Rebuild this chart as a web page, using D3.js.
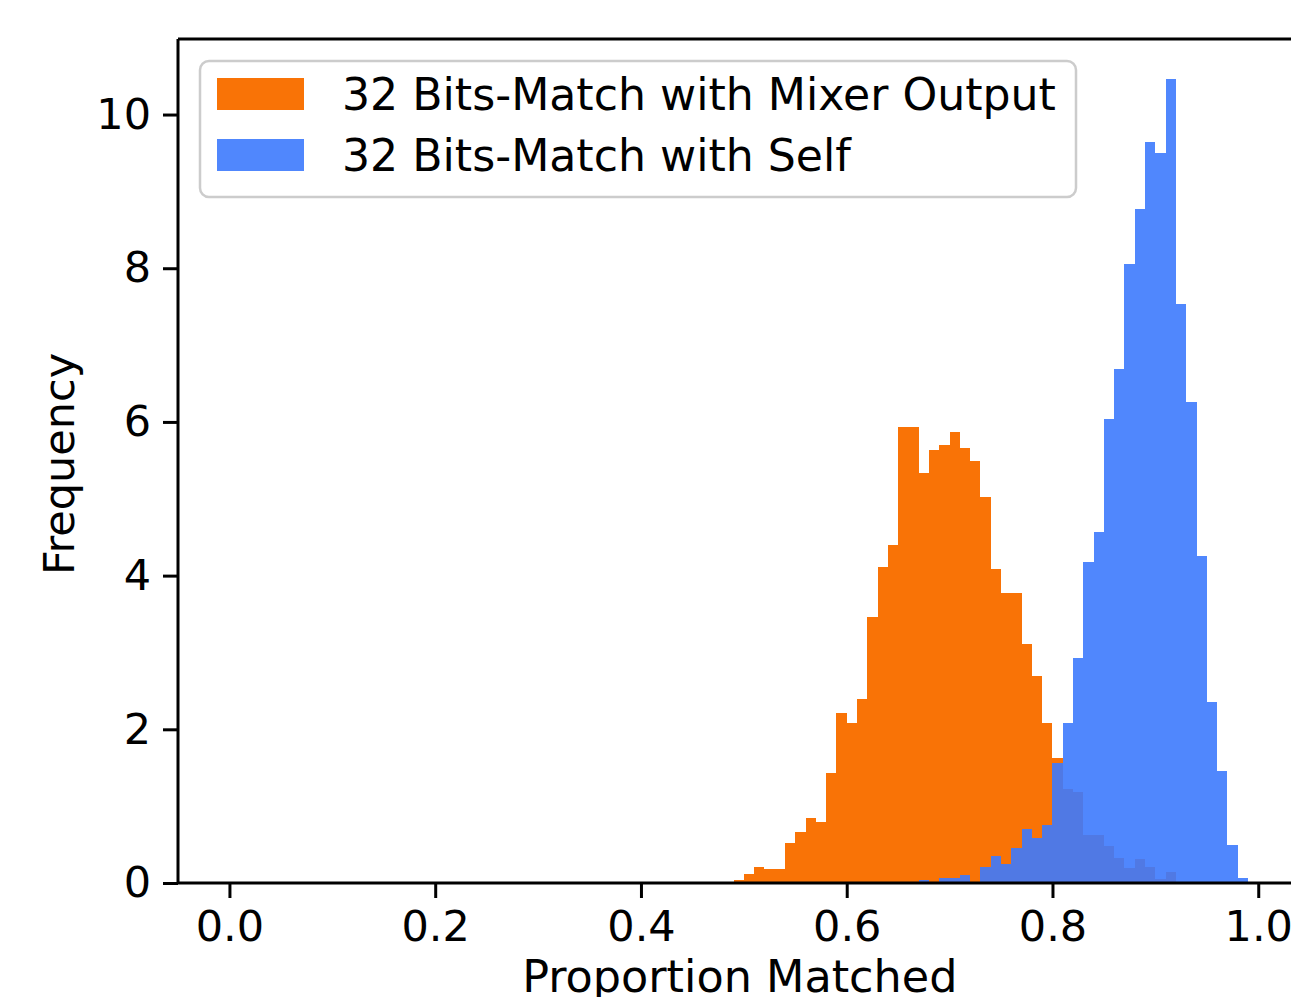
<!DOCTYPE html>
<html>
<head>
<meta charset="utf-8">
<script src="https://cdn.jsdelivr.net/npm/d3@7"></script>
<style>
  html, body { margin: 0; padding: 0; background: #ffffff; overflow: hidden; }
  svg { display: block; }
  text { font-family: "DejaVu Sans", sans-serif; fill: #000; }
</style>
</head>
<body>
<svg id="chart" width="1291" height="997"></svg>
<script>
// Histogram bins are 0.01 wide on [0, 1]; each series lists densities from its first non-empty bin.
const binWidth = 0.01;

const mixerLabel = "32 Bits-Match with Mixer Output";
const mixerStart = 0.49;
const mixerFreq = [
  0.04, 0.12, 0.21, 0.18, 0.18, 0.52, 0.66, 0.84, 0.80, 1.43,
  2.21, 2.08, 2.39, 3.46, 4.11, 4.40, 5.94, 5.94, 5.33, 5.63,
  5.70, 5.87, 5.66, 5.49, 5.02, 4.08, 3.77, 3.77, 3.11, 2.70,
  2.08, 1.63, 1.22, 1.19, 0.63, 0.63, 0.48, 0.32, 0.19, 0.31,
  0.21, 0.05, 0.14
];

const selfLabel = "32 Bits-Match with Self";
const selfStart = 0.67;
const selfFreq = [
  0.04, 0.00, 0.07, 0.07, 0.10, 0.00, 0.21, 0.35, 0.25, 0.45,
  0.70, 0.59, 0.76, 1.56, 2.08, 2.93, 4.18, 4.57, 6.04, 6.69,
  8.05, 8.77, 9.64, 9.50, 10.46, 7.53, 6.26, 4.25, 2.35, 1.46,
  0.49, 0.07
];

const xTicks = [0.0, 0.2, 0.4, 0.6, 0.8, 1.0];
const yTicks = [0, 2, 4, 6, 8, 10];
const xTitle = "Proportion Matched";
const yTitle = "Frequency";

const colors = { mixer: "#f97306", self: "#3d7afd" };

// Plot frame
const plot = { left: 178, top: 39, bottom: 883 };
const fontSize = 43;

const svg = d3.select("#chart");

const x = d3.scaleLinear().domain([-0.05, 1.05]).range([plot.left, plot.left + 1.1 * 1028.8]);
const yMax = d3.max(selfFreq.concat(mixerFreq)) * 1.05;
const y = d3.scaleLinear().domain([0, yMax]).range([plot.bottom, plot.top]);

function toBins(start, freq) {
  const i0 = Math.round(start / binWidth);
  return freq.map((f, i) => ({ x0: (i0 + i) * binWidth, x1: (i0 + i + 1) * binWidth, f }))
             .filter(d => d.f > 0);
}

const bars = svg.append("g");
bars.selectAll("rect.mixer").data(toBins(mixerStart, mixerFreq)).join("rect")
  .attr("class", "mixer")
  .attr("x", d => x(d.x0)).attr("width", d => x(d.x1) - x(d.x0))
  .attr("y", d => y(d.f)).attr("height", d => y(0) - y(d.f))
  .attr("fill", colors.mixer)
  .attr("shape-rendering", "crispEdges");

bars.selectAll("rect.self").data(toBins(selfStart, selfFreq)).join("rect")
  .attr("class", "self")
  .attr("x", d => x(d.x0)).attr("width", d => x(d.x1) - x(d.x0))
  .attr("y", d => y(d.f)).attr("height", d => y(0) - y(d.f))
  .attr("fill", colors.self).attr("fill-opacity", 0.9)
  .attr("shape-rendering", "crispEdges");

// Axes
const xAxis = d3.axisBottom(x).tickValues(xTicks).tickFormat(d3.format(".1f"))
  .tickSize(15).tickPadding(12);
const gx = svg.append("g").attr("transform", `translate(0,${plot.bottom})`).call(xAxis);
gx.select(".domain").remove();
gx.selectAll(".tick line").attr("stroke", "#000").attr("stroke-width", 3);
gx.selectAll(".tick text").attr("font-size", fontSize).attr("font-family", "DejaVu Sans").attr("fill", "#000");

const yAxis = d3.axisLeft(y).tickValues(yTicks).tickFormat(d3.format("d"))
  .tickSize(15).tickPadding(12);
const gy = svg.append("g").attr("transform", `translate(${plot.left},0)`).call(yAxis);
gy.select(".domain").remove();
gy.selectAll(".tick line").attr("stroke", "#000").attr("stroke-width", 3);
gy.selectAll(".tick text").attr("font-size", fontSize).attr("font-family", "DejaVu Sans").attr("fill", "#000");

// Spines
const xRight = x.range()[1];
svg.append("line").attr("x1", plot.left).attr("x2", xRight).attr("y1", plot.bottom).attr("y2", plot.bottom)
  .attr("stroke", "#000").attr("stroke-width", 3);
svg.append("line").attr("x1", plot.left).attr("x2", xRight).attr("y1", plot.top).attr("y2", plot.top)
  .attr("stroke", "#000").attr("stroke-width", 3);
svg.append("line").attr("x1", plot.left).attr("x2", plot.left).attr("y1", plot.top).attr("y2", plot.bottom)
  .attr("stroke", "#000").attr("stroke-width", 3);
svg.append("line").attr("x1", xRight).attr("x2", xRight).attr("y1", plot.top).attr("y2", plot.bottom)
  .attr("stroke", "#000").attr("stroke-width", 3);

// Axis titles
svg.append("text").attr("x", (x(0) + x(1)) / 2 - 4).attr("y", 992)
  .attr("text-anchor", "middle").attr("font-size", 44.5).text(xTitle);
svg.append("text").attr("transform", `translate(74,${(plot.top + plot.bottom) / 2 + 3}) rotate(-90)`)
  .attr("text-anchor", "middle").attr("font-size", fontSize).text(yTitle);

// Legend
const legend = svg.append("g");
legend.append("rect").attr("x", 200).attr("y", 61).attr("width", 876).attr("height", 136)
  .attr("rx", 9).attr("ry", 9)
  .attr("fill", "#fff").attr("fill-opacity", 0.8)
  .attr("stroke", "#cccccc").attr("stroke-width", 2.5);
const entries = [
  { label: mixerLabel, color: colors.mixer, opacity: 1 },
  { label: selfLabel, color: colors.self, opacity: 0.9 }
];
entries.forEach((e, i) => {
  const cy = 94 + i * 61;
  legend.append("rect").attr("x", 217).attr("y", cy - 16).attr("width", 87).attr("height", 32)
    .attr("fill", e.color).attr("fill-opacity", e.opacity);
  legend.append("text").attr("x", 342).attr("y", cy + 16).attr("font-size", 44.2).text(e.label);
});
</script>
</body>
</html>
